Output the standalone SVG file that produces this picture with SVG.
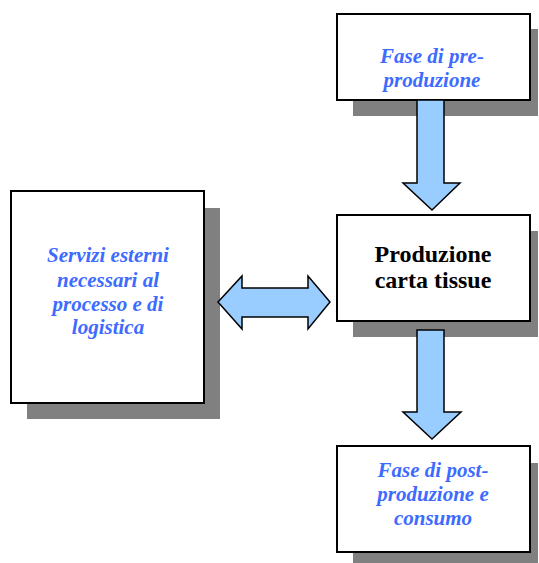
<svg xmlns="http://www.w3.org/2000/svg" width="539" height="563" viewBox="0 0 539 563">
  <style>
    .shadow { fill: #808080; }
    .box { fill: #ffffff; stroke: #000000; stroke-width: 2; }
    .arrow { fill: #99ccff; stroke: #000000; stroke-width: 1.5; stroke-linejoin: miter; }
    .blue { fill: #3d6bff; font-style: italic; font-size: 21px; }
    .black { fill: #000000; font-size: 24px; }
  </style>
  <rect width="539" height="563" fill="#ffffff"/>

  <g font-family="Liberation Serif, serif" font-weight="bold" text-anchor="middle">
    <!-- Pre-production phase -->
    <g id="pre-produzione">
      <rect class="shadow" x="353" y="29" width="185" height="87"/>
      <rect class="box" x="337" y="14" width="193" height="86"/>
      <text class="blue" x="432" y="63">Fase di pre-</text>
      <text class="blue" x="432" y="87">produzione</text>
    </g>

    <!-- Tissue paper production -->
    <g id="produzione">
      <rect class="shadow" x="353" y="231" width="185" height="106"/>
      <rect class="box" x="337" y="215" width="193" height="106"/>
      <text class="black" x="433" y="262">Produzione</text>
      <text class="black" x="433" y="288">carta tissue</text>
    </g>

    <!-- Post-production and consumption -->
    <g id="post-produzione">
      <rect class="shadow" x="353" y="463" width="185" height="105"/>
      <rect class="box" x="337" y="446" width="193" height="106"/>
      <text class="blue" x="433" y="477">Fase di post-</text>
      <text class="blue" x="433" y="501">produzione e</text>
      <text class="blue" x="433" y="525">consumo</text>
    </g>

    <!-- External services and logistics -->
    <g id="servizi-esterni">
      <rect class="shadow" x="27" y="208" width="193" height="211"/>
      <rect class="box" x="11" y="191" width="193" height="212"/>
      <text class="blue" x="108" y="262">Servizi esterni</text>
      <text class="blue" x="108" y="287">necessari al</text>
      <text class="blue" x="108" y="311">processo e di</text>
      <text class="blue" x="108" y="334">logistica</text>
    </g>
  </g>

  <!-- Block arrows -->
  <g id="connectors">
    <polygon class="arrow" points="417,100 444,100 444,183 460,183 432,210 403,183 417,183"/>
    <polygon class="arrow" points="417,330 444,330 444,412 461,412 432,439 403,412 417,412"/>
    <polygon class="arrow" points="218,302 242,276 242,288 308,288 308,276 330,302 308,329 308,317 242,317 242,329"/>
  </g>
</svg>
